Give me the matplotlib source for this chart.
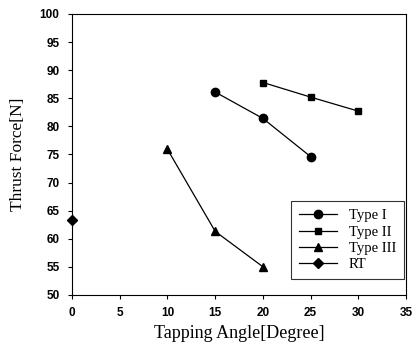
import matplotlib
matplotlib.use("Agg")
from matplotlib import pyplot as plt

# data
type1_x = [15, 20, 25]
type1_y = [86.1, 81.4, 74.6]
type2_x = [20, 25, 30]
type2_y = [87.8, 85.2, 82.7]
type3_x = [10, 15, 20]
type3_y = [75.9, 61.3, 55.0]
rt_x = [0]
rt_y = [63.3]

xticks = [0, 5, 10, 15, 20, 25, 30, 35]
yticks = [50, 55, 60, 65, 70, 75, 80, 85, 90, 95, 100]

serif = "Liberation Serif"
sans = "Liberation Sans"

fig = plt.figure(figsize=(4.14, 3.49), dpi=100)
ax = fig.add_axes([0.174, 0.155, 0.807, 0.805])

ax.plot(type1_x, type1_y, color="black", lw=0.9, marker="o", ms=6, label="Type I")
ax.plot(type2_x, type2_y, color="black", lw=0.9, marker="s", ms=5, label="Type II")
ax.plot(type3_x, type3_y, color="black", lw=0.9, marker="^", ms=6, label="Type III")
ax.plot(rt_x, rt_y, color="black", lw=0.9, marker="D", ms=5, label="RT", clip_on=False)

ax.set_xlim(0, 35)
ax.set_ylim(50, 100)
ax.set_xticks(xticks)
ax.set_yticks(yticks)
ax.tick_params(direction="out", length=3, width=0.8, pad=6)
for lbl in ax.get_xticklabels() + ax.get_yticklabels():
    lbl.set_fontfamily(sans)
    lbl.set_fontweight("bold")
    lbl.set_fontsize(8.5)
for s in ax.spines.values():
    s.set_linewidth(0.8)

ax.set_xlabel("Tapping Angle[Degree]", fontfamily=serif, fontsize=13, labelpad=4)
ax.set_ylabel("Thrust Force[N]", fontfamily=serif, fontsize=12.5, labelpad=10)

leg = ax.legend(loc="lower right", bbox_to_anchor=(0.995, 0.057), borderaxespad=0,
                frameon=True, fancybox=False, edgecolor="black",
                prop={"family": serif, "size": 10.5}, handlelength=2.6,
                labelspacing=0.2, borderpad=0.55)
leg.get_frame().set_linewidth(0.8)

fig.savefig("out.png", dpi=100)
